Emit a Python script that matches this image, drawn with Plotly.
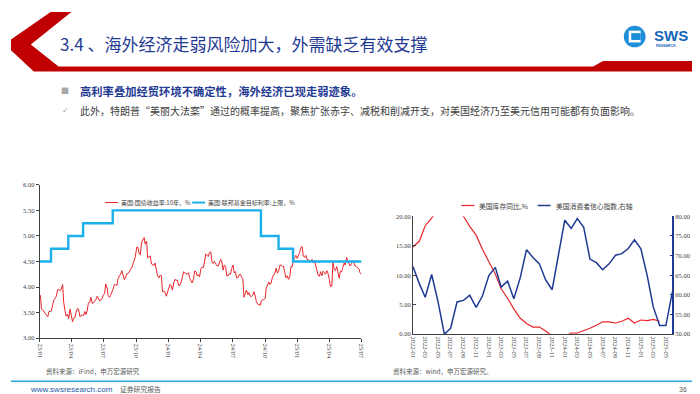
import pandas as pd
import plotly.graph_objects as go

# ---------------- data ----------------
# Left chart: US 10Y Treasury yield (%), Tuesday readings from 2023-01-03
ust10y_tue = [
    3.84, 3.55, 3.48, 3.42, 3.52, 3.66, 3.78, 3.95, 3.93, 4.05,
    3.52, 3.47, 3.57, 3.32, 3.40, 3.58, 3.42, 3.45, 3.52, 3.55,
    3.70, 3.68, 3.72, 3.82, 3.73, 3.78, 3.87, 3.98, 3.80, 3.90,
    4.05, 4.03, 4.22, 4.32, 4.14, 4.26, 4.30, 4.38, 4.55, 4.78,
    4.65, 4.88, 4.97, 4.90, 4.60, 4.45, 4.42, 4.34, 4.18, 4.22,
    3.92, 3.82,
    3.95, 4.02, 4.08, 4.13, 4.03, 4.10, 4.30, 4.27, 4.28, 4.12,
    4.16, 4.30, 4.24, 4.36, 4.38, 4.65, 4.60, 4.69, 4.46, 4.45,
    4.41, 4.54, 4.33, 4.40, 4.22, 4.25, 4.43, 4.30, 4.18, 4.25,
    4.15, 3.88, 3.85, 3.82, 3.84, 3.82, 3.66, 3.64, 3.75, 3.78,
    4.04, 4.05, 4.20, 4.28, 4.27, 4.43, 4.40, 4.30, 4.22, 4.20,
    4.40, 4.58, 4.56,
    4.68, 4.79, 4.58, 4.54, 4.50, 4.54, 4.52, 4.30, 4.21, 4.22,
    4.28, 4.32, 4.15, 4.02, 4.34, 4.40, 4.17, 4.30, 4.47, 4.58,
    4.44, 4.46, 4.47, 4.40, 4.35, 4.25,
]
# Friday readings from 2023-01-06
ust10y_fri = [
    3.57, 3.51, 3.45, 3.52, 3.53, 3.74, 3.82, 3.95, 3.96, 3.70,
    3.43, 3.38, 3.48, 3.39, 3.51, 3.57, 3.44, 3.44, 3.46, 3.69,
    3.80, 3.69, 3.75, 3.77, 3.74, 3.84, 4.06, 3.83, 3.84, 3.96,
    4.05, 4.16, 4.25, 4.24, 4.18, 4.26, 4.33, 4.44, 4.59, 4.78,
    4.63, 4.93, 4.84, 4.57, 4.61, 4.44, 4.47, 4.22, 4.23, 3.91,
    3.90, 3.88,
    4.05, 3.94, 4.15, 4.14, 4.03, 4.18, 4.28, 4.25, 4.18, 4.08,
    4.31, 4.22, 4.20, 4.39, 4.50, 4.62, 4.67, 4.50, 4.50, 4.42,
    4.46, 4.51, 4.43, 4.22, 4.26, 4.36, 4.28, 4.18, 4.24, 4.20,
    3.80, 3.94, 3.89, 3.81, 3.91, 3.72, 3.66, 3.73, 3.75, 3.98,
    4.10, 4.08, 4.24, 4.37, 4.31, 4.43, 4.41, 4.18, 4.15, 4.40,
    4.52, 4.62,
    4.60, 4.77, 4.61, 4.62, 4.54, 4.49, 4.47, 4.42, 4.23, 4.30,
    4.31, 4.25, 4.27, 4.01, 4.48, 4.32, 4.26, 4.31, 4.38, 4.43,
    4.51, 4.41, 4.51, 4.41, 4.38, 4.28,
]
fed_dates = ["2023-01-01", "2023-02-02", "2023-03-23", "2023-05-04", "2023-07-27",
             "2024-09-19", "2024-11-08", "2024-12-19", "2025-07-01"]
fed_upper = [4.50, 4.75, 5.00, 5.25, 5.50, 5.00, 4.75, 4.50, 4.50]
left_ticks = ["2023-01-01", "2023-04-01", "2023-07-01", "2023-10-01", "2024-01-01",
              "2024-04-01", "2024-07-01", "2024-10-01", "2025-01-01", "2025-04-01",
              "2025-07-01"]

# Right chart: monthly, 2022-01 .. 2025-06
inventory_yoy = [
    14.8, 15.8, 18.4, 19.7, 21.5, 23.0, 23.5, 22.0, 20.0, 18.3,
    16.8, 14.4, 12.3, 10.2, 7.7, 6.1, 4.3, 2.7, 1.8, 1.2,
    1.2, 0.55, -0.3, -0.8, -0.4, 0.2, 0.2, 0.55, 1.0, 1.5,
    2.1, 2.1, 1.9, 2.2, 2.7, 1.9, 2.4, 2.3, 2.5, 2.2,
]
consumer_sentiment = [
    67.2, 62.8, 59.4, 65.2, 58.4, 50.0, 51.5, 58.2, 58.6, 59.9,
    56.8, 59.7, 64.9, 67.0, 62.0, 63.5, 59.0, 64.4, 71.5, 69.5,
    67.9, 63.8, 61.3, 69.7, 79.0, 76.9, 79.4, 77.2, 69.1, 68.2,
    66.4, 67.9, 70.1, 70.5, 71.8, 74.0, 71.7, 64.7, 57.0, 52.2,
    52.2, 60.7,
]
right_ticks = ["2022-01", "2022-03", "2022-05", "2022-07", "2022-09", "2022-11",
               "2023-01", "2023-03", "2023-05", "2023-07", "2023-09", "2023-11",
               "2024-01", "2024-03", "2024-05", "2024-07", "2024-09", "2024-11",
               "2025-01", "2025-03", "2025-05"]

ust = pd.concat([
    pd.Series(ust10y_tue, index=pd.date_range("2023-01-03", periods=len(ust10y_tue), freq="7D")),
    pd.Series(ust10y_fri, index=pd.date_range("2023-01-06", periods=len(ust10y_fri), freq="7D")),
]).sort_index()
months = pd.date_range("2022-01-01", periods=len(consumer_sentiment), freq="MS")

# ---------------- styling ----------------
W, H = 700, 394
def px(x):
    return x / W
def py(y):
    return 1 - y / H

RED = "#E8262B"
CYAN = "#1CB0EA"
NAVY = "#1F3A93"
TITLE_BLUE = "#1F3A93"
GRAY = "#595959"
SERIF = "Liberation Serif"
CJK = "Noto Sans CJK SC"

fig = go.Figure()

fig.add_trace(go.Scatter(x=ust.index, y=ust.values, mode="lines",
                         line=dict(color=RED, width=1), xaxis="x", yaxis="y",
                         showlegend=False))
fig.add_trace(go.Scatter(x=pd.to_datetime(fed_dates), y=fed_upper, mode="lines",
                         line=dict(color=CYAN, width=2.4, shape="hv"),
                         xaxis="x", yaxis="y", showlegend=False))

fig.add_trace(go.Scatter(x=months[:len(inventory_yoy)], y=inventory_yoy, mode="lines",
                         line=dict(color=RED, width=1.2), xaxis="x2", yaxis="y2",
                         showlegend=False))
fig.add_trace(go.Scatter(x=months, y=consumer_sentiment, mode="lines",
                         line=dict(color=NAVY, width=1.5), xaxis="x2", yaxis="y3",
                         showlegend=False))

axis_common = dict(showgrid=False, zeroline=False, showline=True,
                   linecolor="#404040", linewidth=1)

fig.update_layout(
    width=W, height=H, autosize=False,
    margin=dict(l=0, r=0, t=0, b=0),
    paper_bgcolor="white", plot_bgcolor="rgba(0,0,0,0)",
    xaxis=dict(domain=[px(29), px(354)], anchor="y", type="date",
               range=["2023-01-01", "2025-07-01"],
               tickvals=left_ticks, tickformat="%y/%m", tickangle=90,
               ticks="outside", ticklen=3, tickcolor="#404040",
               tickfont=dict(family=SERIF, size=6.5, color="#404040"),
               **axis_common),
    yaxis=dict(domain=[py(332), py(176)], anchor="x", range=[3, 6], dtick=0.5,
               tickformat=".2f", ticks="outside", ticklen=3, tickcolor="#404040",
               tickfont=dict(family=SERIF, size=6.5, color="#404040"),
               **axis_common),
    xaxis2=dict(domain=[px(406), px(668)], anchor="y2", type="date",
                range=["2022-01-01", "2025-06-01"],
                tickvals=[t + "-01" for t in right_ticks], tickformat="%Y-%m",
                tickangle=90, ticks="",
                tickfont=dict(family=SERIF, size=6.5, color="#404040"),
                **axis_common),
    yaxis2=dict(domain=[py(328), py(208)], anchor="x2", range=[0, 20], dtick=5,
                tickformat=".2f", ticks="inside", ticklen=3, tickcolor="#404040",
                tickfont=dict(family=SERIF, size=6.5, color="#404040"),
                **axis_common),
    yaxis3=dict(overlaying="y2", anchor="x2", side="right", range=[50, 80], dtick=5,
                tickformat=".2f", ticks="inside", ticklen=3, tickcolor=NAVY,
                tickfont=dict(family=SERIF, size=6.5, color="#404040"),
                showgrid=False, zeroline=False, showline=True,
                linecolor=NAVY, linewidth=1.5),
)

shapes = []
# red chevron + header band
chev = [(40, 0), (61, 0), (20, 33), (48, 55.5), (588, 55.5), (598, 50),
        (700, 50), (700, 60.5), (23, 60.5), (0, 39), (0, 28)]
path = "M " + " L ".join(f"{px(x)},{py(y)}" for x, y in chev) + " Z"
shapes.append(dict(type="path", path=path, xref="paper", yref="paper",
                   fillcolor="#C00000", line=dict(width=0), layer="above"))
# logo circle
shapes.append(dict(type="circle", xref="paper", yref="paper",
                   x0=px(619), x1=px(641), y0=py(36), y1=py(14),
                   fillcolor="#1E8FD8", line=dict(width=0)))
shapes.append(dict(type="rect", xref="paper", yref="paper",
                   x0=px(624), x1=px(636), y0=py(31), y1=py(19),
                   fillcolor="white", line=dict(width=0)))
shapes.append(dict(type="rect", xref="paper", yref="paper",
                   x0=px(626.5), x1=px(636), y0=py(28.5), y1=py(21.5),
                   fillcolor="#1E8FD8", line=dict(width=0)))
# footer line
shapes.append(dict(type="line", xref="paper", yref="paper",
                   x0=0, x1=1, y0=py(376), y1=py(376),
                   line=dict(color="#29A8E0", width=1.5)))
# legend swatches
for (x0, x1, y, c, w) in [(95, 108, 194, RED, 1), (183, 196, 194, CYAN, 2),
                          (455, 468, 197, RED, 1.2), (532, 545, 197, NAVY, 1.5)]:
    shapes.append(dict(type="line", xref="paper", yref="paper",
                       x0=px(x0), x1=px(x1), y0=py(y), y1=py(y),
                       line=dict(color=c, width=w)))

annotations = []
def txt(x, y, s, size, color, family=CJK, anchor="left"):
    annotations.append(dict(x=px(x), y=py(y), xref="paper", yref="paper",
                            text=s, showarrow=False, xanchor=anchor,
                            yanchor="middle",
                            font=dict(size=size, color=color, family=family)))

txt(47, 32, "3.4 、海外经济走弱风险加大，外需缺乏有效支撑", 17, TITLE_BLUE)
txt(647, 24, "<b>SWS</b>", 15, "#1565B8", family="Liberation Sans")
txt(649, 34.5, "<b>RESEARCH</b>", 3.5, "#1565B8", family="Liberation Sans")
txt(48, 80, "■", 8, "#A6A6A6")
txt(68, 80, "<b>高利率叠加经贸环境不确定性，海外经济已现走弱迹象。</b>", 11.3, TITLE_BLUE)
txt(49, 100, "✓", 8, "#A6A6A6", family="DejaVu Sans")
txt(68, 100, "此外，特朗普“美丽大法案”通过的概率提高，聚焦扩张赤字、减税和削减开支，对美国经济乃至美元信用可能都有负面影响。",
    10.0, "#404040")

txt(109, 194, "美国:国债收益率:10年，%", 6, "#404040")
txt(197, 194, "美国:联邦基金目标利率:上限，%", 6, "#404040")
txt(471, 197, "美国库存同比,%", 6.8, "#404040")
txt(548, 197, "美国消费者信心指数,右轴", 6.8, "#404040")

txt(33, 366, "资料来源：iFind，申万宏源研究", 6.5, GRAY)
txt(384, 366, "资料来源：wind，申万宏源研究。", 6.5, GRAY)

txt(17, 384, "www.swsresearch.com", 8, "#1F5AA6", family="Liberation Sans")
txt(108, 384, "证券研究报告", 6.8, GRAY)
txt(685, 384, "36", 7, GRAY, family="Liberation Sans", anchor="right")

fig.update_layout(shapes=shapes, annotations=annotations)

fig.write_html("out.html")
